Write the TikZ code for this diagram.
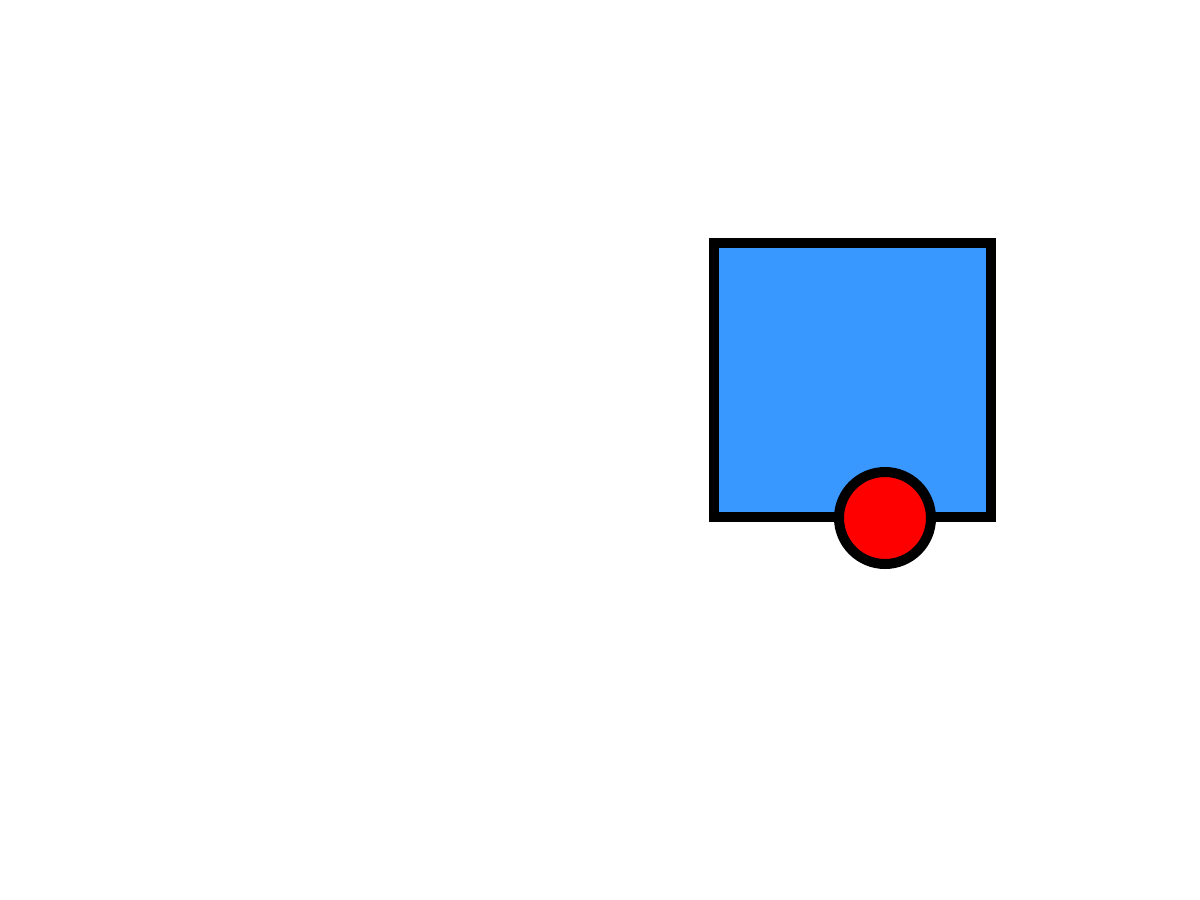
\documentclass[tikz,border=0pt]{standalone}
\begin{document}
\begin{tikzpicture}[x=0.5pt,y=-0.5pt,
  boxstyle/.style={draw=black,line width=5pt,fill=boxblue},
  dotstyle/.style={draw=black,line width=5pt,fill=red,circle,inner sep=0pt,minimum size=46pt}]
\definecolor{boxblue}{RGB}{56,152,255}
\useasboundingbox[fill=white] (0,0) rectangle (1200,900);
\draw[boxstyle] (714,243) rectangle (991,517);
\node[dotstyle] (dot) at (885,518) {};
\end{tikzpicture}
\end{document}
